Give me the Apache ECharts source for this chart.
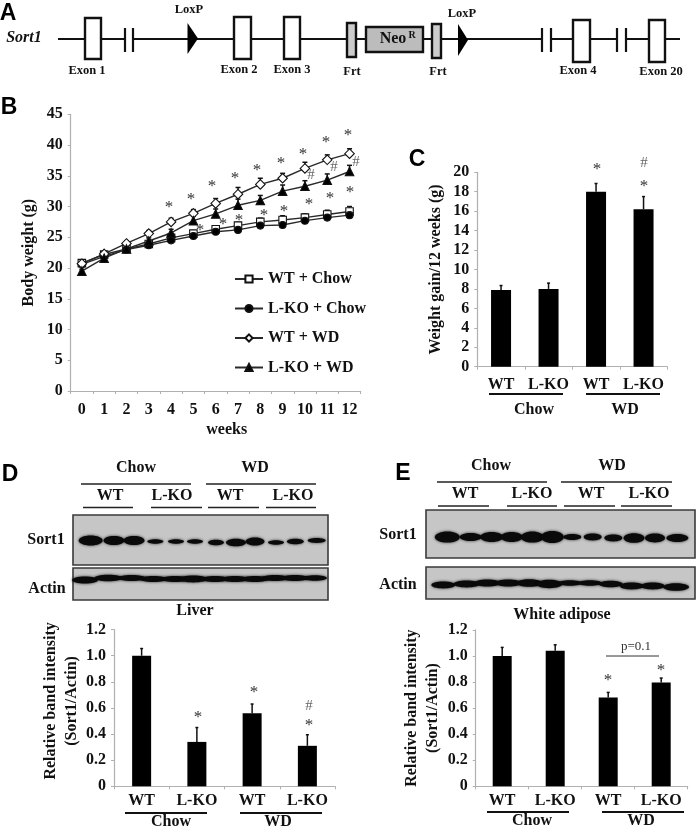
<!DOCTYPE html>
<html><head><meta charset="utf-8">
<style>html,body{margin:0;padding:0;background:#fff}#c{width:697px;height:829px;filter:blur(0.3px)}</style>
<script src="https://cdn.jsdelivr.net/npm/echarts@6/dist/echarts.min.js"></script>
</head><body><div id="c"></div>
<script>
// ---------- data ----------
const weeks = ['0','1','2','3','4','5','6','7','8','9','10','11','12'];
const wtChow  = [20.8,22.2,23.1,23.9,24.9,25.6,26.3,26.9,27.5,27.8,28.2,28.7,29.2];
const koChow  = [20.6,21.9,23.0,23.7,24.5,25.2,25.9,26.2,26.9,27.0,27.7,28.2,28.6];
const wtWD    = [20.7,22.3,24.0,25.6,27.5,28.9,30.5,32.0,33.6,34.6,36.2,37.6,38.6];
const koWD    = [19.5,21.6,23.1,24.4,25.7,27.7,28.8,30.2,31.0,32.5,33.3,34.3,35.7];
const wtChowErr = [0.2,0.2,0.3,0.3,0.4,0.4,0.5,0.5,0.6,0.7,0.6,0.7,0.8];
const koChowErr = [0.2,0.2,0.2,0.3,0.3,0.3,0.3,0.3,0.3,0.3,0.4,0.4,0.4];
const wtWDErr = [0.3,0.3,0.4,0.5,0.6,0.6,0.8,1.1,1.0,0.8,1.0,0.8,0.8];
const koWDErr = [0.3,0.3,0.4,0.5,0.6,0.7,0.8,1.0,0.8,1.0,0.9,1.0,1.0];

const groups = ['WT','L-KO','WT','L-KO'];
const gain = [7.9,8.0,18.0,16.2];
const gainHi = [8.35,8.6,18.85,17.5];
const liver = [1.0,0.34,0.56,0.31];
const liverHi = [1.055,0.45,0.63,0.395];
const adipose = [1.0,1.04,0.68,0.795];
const adiposeHi = [1.065,1.085,0.72,0.83];

// ---------- layout ----------
const SERIF = '"Liberation Serif","Times New Roman",serif';
const SANS = '"Liberation Sans",Arial,sans-serif';
const g = [];
const txt = (x,y,s,o={}) => g.push({type:'text',x,y,z:o.z||20,style:{text:s,x:0,y:0,align:'center',verticalAlign:'middle',
  font:`${o.i?'italic ':''}${o.w||'bold'} ${o.size||15}px ${o.fam||SERIF}`,fill:o.c||'#111'}});
const line = (x1,y1,x2,y2,w=1.5,c='#111') => g.push({type:'line',z:18,shape:{x1,y1,x2,y2},style:{stroke:c,lineWidth:w}});
const box = (x1,y1,x2,y2,fill,w=2.4,c='#111') => g.push({type:'rect',z:19,shape:{x:x1,y:y1,width:x2-x1,height:y2-y1},style:{fill,stroke:c,lineWidth:w}});
const tri = (x1,x2,y1,y2) => g.push({type:'polygon',z:19,shape:{points:[[x1,y1],[x2,(y1+y2)/2],[x1,y2]]},style:{fill:'#000'}});
const star = (x,y) => txt(x,y+4,'*',{size:17,w:'normal',c:'#333'});
const hash = (x,y) => txt(x,y,'#',{size:15,w:'normal',c:'#666'});

// panel letters
[['A',8,14],['B',9,108],['C',417,160],['D',10,475],['E',403,474]].forEach(([s,x,y])=>txt(x,y,s,{size:23,fam:SANS,c:'#000'}));

// ---------- panel A: gene map ----------
line(58,39,680,39,1.8);
[[125,133],[542,551],[617,626]].forEach(([a,b])=>{
  g.push({type:'rect',z:18,shape:{x:a+1,y:30,width:b-a-2,height:18},style:{fill:'#fff'}});
  line(a,28,a,52,2.2); line(b,28,b,52,2.2);
});
[[85,101,18,59],[234,251,17,59],[284,300,17,59],[573,590,20,62],[649,665,20,62]].forEach(b=>box(b[0],b[2],b[1],b[3],'#fff'));
box(347,23,356,57,'#ccc'); box(432,24,441,58,'#ccc'); box(366,27,423,52,'#bcbcbc');
tri(187.5,198,23,54); tri(458,468,24,56);
txt(393,39,'Neo',{size:16}); txt(412,35,'R',{size:10});
txt(24,38,'Sort1',{i:1,size:16});
txt(189,10,'LoxP',{size:12.5}); txt(462,14,'LoxP',{size:12.5});
[['Exon 1',87,71],['Exon 2',239,70],['Exon 3',292,70],['Frt',352,72],['Frt',438,72],['Exon 4',578,71],['Exon 20',661,72]]
  .forEach(([s,x,y])=>txt(x,y,s,{size:12.5}));

// annotations
[[169,204],[191,196],[212,183],[235,175],[257,167],[281,160],[303,151],[326,139],[348,132],
 [200,227],[223,221],[239,217],[264,212],[284,208],[309,201],[330,195],[350,189],
 [597,166],[644,183],[198,714],[254,689],[309,722],[608,677],[661,667]].forEach(p=>star(p[0],p[1]));
[[311,175],[334,167],[356,162],[644,163],[309,706]].forEach(p=>hash(p[0],p[1]));

// group underlines below bars
[[489,563,394],[586,660,394],[125,207,813],[240,322,813],[487,569,812],[602,684,812]].forEach(l=>line(l[0],l[2],l[1],l[2],1.8));
[['Chow',534,410],['WD',625,410],['Chow',171,822],['WD',278,822],['Chow',532,821],['WD',641,821]].forEach(([s,x,y])=>txt(x,y,s,{size:16}));
line(606,656,659,656,1,'#333'); txt(636,647,'p=0.1',{size:13,w:'normal',c:'#333'});

// ---------- panels D, E: blots ----------
const blot = (hdr,lines1,subs,lines2,rects,labels,caption,bands) => {
  hdr.forEach(([s,x,y])=>txt(x,y,s,{size:16}));
  lines1.concat(lines2).forEach(l=>line(l[0],l[2],l[1],l[2],1.5,'#222'));
  subs.forEach(([s,x,y])=>txt(x,y,s,{size:16}));
  rects.forEach(r=>g.push({type:'rect',z:10,shape:{x:r[0],y:r[1],width:r[2]-r[0],height:r[3]-r[1]},style:{fill:'#c6c6c6',stroke:'#3a3a3a',lineWidth:1.6}}));
  labels.forEach(([s,x,y])=>txt(x,y,s,{size:16}));
  txt(caption[1],caption[2],caption[0],{size:16});
  bands.forEach(b=>g.push({type:'ellipse',z:11,shape:{cx:b[0],cy:b[1],rx:b[2],ry:b[3]},style:{fill:'#0a0a0a',shadowBlur:3,shadowColor:'rgba(0,0,0,0.75)'}}));
};
const row = (org,zs,y,rxs,rys,dy=[]) => zs.map((z,i)=>[org+z/3,y+(dy[i]||0),rxs[i],rys[i]]);

blot([['Chow',136,468],['WD',255,468]],
  [[81,191,484],[206,316,484]],
  [['WT',110,496],['L-KO',172,496],['WT',230,496],['L-KO',293,496]],
  [[83,133,507.5],[151,202,507.5],[208,259,507.5],[266,316,507.5]],
  [[73,515,328,565],[73,568,328,600]],
  [['Sort1',46,540],['Actin',47,589]],['Liver',195,611],
  row(0,[272,342,402,466,528,585,648,708,765,828,886,950],540.5,
      [12,10.5,10.5,8,8,8,8,10,9.5,8,8.5,9],[5,4.6,4.6,2.2,2.2,2.2,2.8,3.8,4,2.2,2.8,2.4],[0,0,0,1,1,1,2,2,1,2,1,0])
  .concat(row(0,[255,325,395,460,525,580,645,705,765,825,885,945],578,
      [13,14,14,14,14,14,14,14,14,14,14,12],[3.6,3.2,3,3,3,3.4,3,3,3,3,3,2.8],[2,0,0,1,1,1,1,1,1,0,0,0])));

blot([['Chow',491,466],['WD',612,466]],
  [[437,547,482],[561,672,482]],
  [['WT',465,494],['L-KO',532,494],['WT',591,494],['L-KO',649,494]],
  [[438,489,506],[507,557,506],[564,615,506],[621,672,506]],
  [[426,510,695,558],[426,567,695,599]],
  [['Sort1',398,535],['Actin',398,585]],['White adipose',562,615],
  row(350,[292,362,425,485,547,607,667,728,790,852,915,982],537,
      [12.5,11,11.5,11,11.5,11.5,9,9,9,10.5,10,11],[5.6,4,5,5,5.6,6,3,3.4,3.4,4.8,4.4,4],[0,0,0,0,0,0,0,0,1,1,1,1])
  .concat(row(350,[280,350,412,475,538,598,660,720,782,845,908,978],584,
      [12,13,13,13,13,13,12,12,12,12,12,13],[3.4,3.4,3.6,3.6,3.8,4.2,2.8,2.8,3.2,3.4,3.4,3.8],[1,0,-1,-1,-1,0,-1,-1,0,2,2,3])));

// ---------- ECharts ----------
const axisCol = '#b0b0b0';
const numStyle = {color:'#111',fontFamily:SERIF,fontWeight:'bold',fontSize:16};
const catAxis = (i,data,mar,extra={}) => Object.assign({type:'category',gridIndex:i,data,
  axisLine:{show:true,lineStyle:{color:axisCol,width:1.2}},
  axisTick:{show:true,length:3,lineStyle:{color:axisCol},alignWithLabel:false},
  axisLabel:Object.assign({interval:0,margin:mar},numStyle)},extra);
const valAxis = (i,max,step,fmt,name,gap,extra={}) => Object.assign({type:'value',gridIndex:i,min:0,max,interval:step,
  name,nameLocation:'middle',nameGap:gap,nameTextStyle:Object.assign({},numStyle,{lineHeight:21},extra.pad?{padding:extra.pad}:{}),
  splitLine:{show:false},
  axisLine:{show:true,lineStyle:{color:axisCol,width:1.2}},
  axisTick:{show:true,length:3,lineStyle:{color:axisCol}},
  axisLabel:Object.assign({margin:8,formatter:fmt},numStyle)});
const dec = v => v===0?'0':v.toFixed(1);
const errSeries = (ax,vals,his,cap) => ({type:'custom',xAxisIndex:ax,yAxisIndex:ax,z:2,silent:true,
  data:vals.map((v,i)=>[i,v,his[i]]),
  encode:{x:0,y:[1,2]},
  renderItem:(p,api)=>{
    const a=api.coord([api.value(0),api.value(1)]), b=api.coord([api.value(0),api.value(2)]);
    const st={stroke:'#111',lineWidth:1.5,fill:null};
    return {type:'group',children:[
      {type:'line',shape:{x1:a[0],y1:a[1],x2:b[0],y2:b[1]},style:st},
      {type:'line',shape:{x1:b[0]-cap,y1:b[1],x2:b[0]+cap,y2:b[1]},style:st}]};
  }});
const add = (a,b) => a.map((v,i)=>+(v+b[i]).toFixed(2));
const lineS = (name,data,symbol,size,fill) => ({type:'line',name,data,xAxisIndex:0,yAxisIndex:0,z:5,symbol,symbolSize:size,showSymbol:true,
  lineStyle:{color:'#2a2a2a',width:1.4},itemStyle:{color:fill,borderColor:'#111',borderWidth:1.1,opacity:1}});
const barS = (ax,data,w) => ({type:'bar',data,xAxisIndex:ax,yAxisIndex:ax,barWidth:w,z:3,itemStyle:{color:'#000'}});

const option = {
  animation:false,backgroundColor:'#fff',
  grid:[
    {left:70.7,top:114.3,width:290,height:276.7},
    {left:477.3,top:172.3,width:190,height:194.4},
    {left:114,top:629.6,width:221,height:156.7},
    {left:475.7,top:629.8,width:212,height:156.5}
  ],
  xAxis:[
    catAxis(0,weeks,11,{name:'weeks',nameLocation:'middle',nameGap:31,nameTextStyle:Object.assign({},numStyle,{padding:[0,0,0,22]})}),
    catAxis(1,groups,10),catAxis(2,groups,7),catAxis(3,groups,7)
  ],
  yAxis:[
    valAxis(0,45,5,v=>v,'Body weight (g)',31),
    valAxis(1,20,2,v=>v,'Weight gain/12 weeks (g)',31),
    valAxis(2,1.2,0.2,dec,'Relative band intensity\n(Sort1/Actin)',30,{pad:[0,0,0,14]}),
    valAxis(3,1.2,0.2,dec,'Relative band intensity\n(Sort1/Actin)',27)
  ],
  legend:{show:true,orient:'vertical',left:229,top:266,itemWidth:28,itemHeight:9,itemGap:13.5,
    textStyle:Object.assign({},numStyle,{lineHeight:15}),
    data:['WT + Chow','L-KO + Chow','WT + WD','L-KO + WD']},
  series:[
    errSeries(0,wtChow,add(wtChow,wtChowErr),2.5),
    errSeries(0,koChow,add(koChow,koChowErr),2.5),
    errSeries(0,wtWD,add(wtWD,wtWDErr),2.5),
    errSeries(0,koWD,add(koWD,koWDErr),2.5),
    lineS('WT + Chow',wtChow,'rect',7.5,'#fff'),
    lineS('L-KO + Chow',koChow,'circle',7,'#000'),
    lineS('WT + WD',wtWD,'diamond',9.5,'#fff'),
    lineS('L-KO + WD',koWD,'triangle',8.5,'#000'),
    barS(1,gain,20),errSeries(1,gain,gainHi,1.5),
    barS(2,liver,19),errSeries(2,liver,liverHi,1.5),
    barS(3,adipose,19),errSeries(3,adipose,adiposeHi,1.5)
  ],
  graphic:{elements:g}
};
const chart = echarts.init(document.getElementById('c'),null,{renderer:'canvas',width:697,height:829});
chart.setOption(option);
</script></body></html>
